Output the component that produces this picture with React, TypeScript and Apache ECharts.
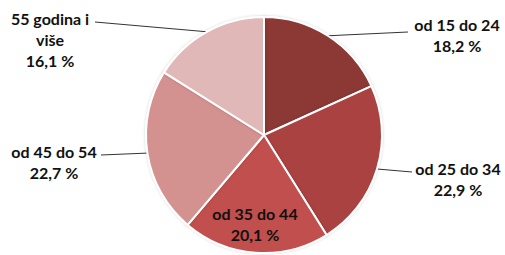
import React, { useEffect, useRef } from "react";
import * as echarts from "echarts";

const categories = ["od 15 do 24", "od 25 do 34", "od 35 do 44", "od 45 do 54", "55 godina i\nviše"];
const values = [18.2, 22.9, 20.1, 22.7, 16.1];
const colors = ["#8C3836", "#A9423F", "#C0504D", "#D39190", "#DFB8B7"];

// label anchor (text centre) and label-line end for each slice
const labelPlaces = [
  { x: 457, y: 35, lx: 408, ly: 32 },
  { x: 458, y: 179, lx: 412, ly: 172 },
  { x: 255, y: 224, lx: null, ly: null },
  { x: 54, y: 162, lx: 101, ly: 155 },
  { x: 50, y: 39, lx: 95, ly: 22 },
];

export default function App() {
  const ref = useRef<HTMLDivElement>(null);
  useEffect(() => {
    if (!ref.current) return;
    const chart = echarts.init(ref.current, null, { renderer: "svg" });
    chart.setOption({
      animation: false,
      backgroundColor: "#ffffff",
      series: [
        {
          type: "pie",
          center: [264, 135],
          radius: 118,
          startAngle: 90,
          clockwise: true,
          avoidLabelOverlap: false,
          itemStyle: {
            borderColor: "#ffffff",
            borderWidth: 2,
            shadowColor: "rgba(0,0,0,0.18)",
            shadowBlur: 3,
          },
          label: {
            show: true,
            position: "outside",
            fontFamily: "Lato",
            fontWeight: "bold",
            fontSize: 16,
            lineHeight: 21,
            color: "#111111",
            align: "center",
            formatter: (p: any) =>
              p.name + "\n" + p.value.toFixed(1).replace(".", ",") + " %",
          },
          labelLine: {
            show: true,
            length: 5,
            length2: 20,
            lineStyle: { color: "#333333", width: 1 },
          },
          labelLayout: (p: any) => {
            const t = labelPlaces[p.dataIndex];
            const out: any = { x: t.x, y: t.y, align: "center", verticalAlign: "middle" };
            if (t.lx !== null && p.labelLinePoints) {
              const s = p.labelLinePoints[0];
              out.labelLinePoints = [s, [t.lx, t.ly], [t.lx, t.ly]];
            }
            return out;
          },
          data: categories.map((c, i) => ({
            name: c,
            value: values[i],
            itemStyle: { color: colors[i] },
            ...(i === 2
              ? { label: { position: "inside" }, labelLine: { show: false } }
              : {}),
          })),
        },
      ],
    });
    return () => chart.dispose();
  }, []);
  return (
    <div
      ref={ref}
      style={{ position: "fixed", left: 0, top: 0, width: 505, height: 255 }}
    />
  );
}
